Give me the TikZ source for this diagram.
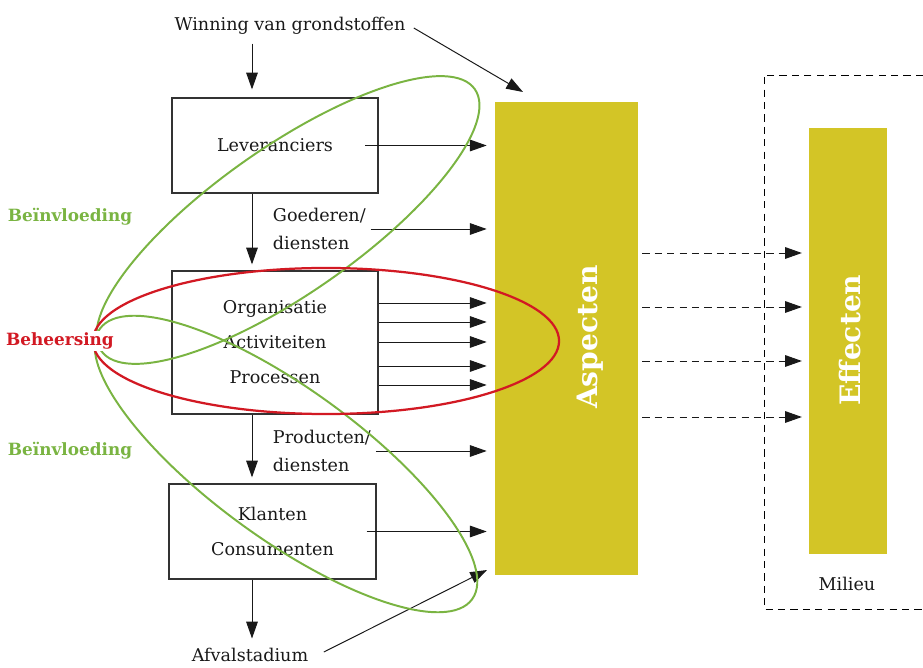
\documentclass[tikz,border=0pt]{standalone}
\usepackage{fontspec}
\setmainfont{DejaVu Serif}
\usetikzlibrary{arrows.meta}

\definecolor{aspectyellow}{RGB}{211,197,38}
\definecolor{influencegreen}{RGB}{122,180,66}
\definecolor{controlred}{RGB}{210,25,35}

\begin{document}
\begin{tikzpicture}[x=0.025cm, y=-0.025cm,
    every node/.style={text=black!90, font=\fontsize{12.5}{14}\selectfont},
    stage/.style={draw=black!80, line width=0.8pt, minimum width=5.15cm, align=center, font=\fontsize{12.5}{24.9}\selectfont},
    flowlabel/.style={anchor=west, align=left, font=\fontsize{12.5}{19.9}\selectfont},
    flow/.style={draw=black!90, line width=0.7pt, -{Triangle[length=4.2mm, width=2.9mm]}},
    effectflow/.style={flow, dash pattern=on 1.8mm off 1.3mm},
    yellowbar/.style={fill=aspectyellow, inner sep=0pt},
    bartext/.style={rotate=90, text=white, font=\bfseries\fontsize{20}{20}\selectfont},
    sidelabel/.style={font=\bfseries\fontsize{12}{12}\selectfont},
    ring/.style={line width=1.4pt}
]
    \useasboundingbox (0,0) rectangle (923,668);

    % chain
    \node (win) at (290,26) {Winning van grondstoffen};
    \node[stage, minimum height=2.375cm] (lev) at (275,145.5) {Leveranciers};
    \node[flowlabel] (goed) at (268,229) {Goederen/\\diensten};
    \node[stage, minimum height=3.575cm] (org) at (275,342.5) {Organisatie\\Activiteiten\\Processen};
    \node[flowlabel] (prod) at (268,451) {Producten/\\diensten};
    \node[stage, minimum height=2.375cm, minimum width=5.175cm] (klant) at (272.5,531.5) {Klanten\\Consumenten};
    \node[inner sep=1pt] (afval) at (250,655) {Afvalstadium};

    % aspects and effects
    \node[yellowbar, minimum width=3.575cm, minimum height=11.825cm] (asp) at (566.5,338.5) {};
    \node[bartext] (asplabel) at (590,337) {Aspecten};
    \node[yellowbar, minimum width=1.95cm, minimum height=10.65cm] (eff) at (848,341) {};
    \node[bartext] (efflabel) at (850,340) {Effecten};
    \node (milieu) at (847,584) {Milieu};
    \draw[dash pattern=on 1.8mm off 1.3mm, line width=0.6pt] (923,75) -- (764,75) -- (764,609) -- (923,609);

    % downwards
    \coordinate (chain) at (252,0);
    \draw[flow, shorten <=1mm, shorten >=2mm] (win.south -| chain) -- (lev.north -| chain);
    \draw[flow, shorten >=1.5mm] (lev.south -| chain) -- (org.north -| chain);
    \draw[flow, shorten >=1.5mm] (org.south -| chain) -- (klant.north -| chain);
    \draw[flow, shorten >=2mm] (klant.south -| chain) -- (afval.north -| chain);

    % into the aspects
    \draw[flow, shorten >=2mm] ([xshift=-3.3mm]lev.east) -- (lev.east -| asp.west);
    \draw[flow, shorten >=2mm] (goed.east) -- (goed.east -| asp.west);
    \foreach \y in {303,322,342,366,385}
        \draw[flow, shorten >=2mm] (org.east |- 0,\y) -- (asp.west |- 0,\y);
    \draw[flow, shorten >=2mm] (prod.east) -- (prod.east -| asp.west);
    \draw[flow, shorten >=2mm] ([xshift=-2.5mm]klant.east) -- (klant.east -| asp.west);
    \coordinate (asptop) at (523,92);
    \coordinate (aspbottom) at (487,570);
    \draw[flow, shorten <=1mm] (win.east) -- (asptop);
    \draw[flow] ([shift={(14,-3)}]afval.east) -- (aspbottom);

    % aspects to effects
    \foreach \y in {253,307,361,417}
        \draw[effectflow, shorten <=1mm, shorten >=1.7mm] (asp.east |- 0,\y) -- (eff.west |- 0,\y);

    % influence and control
    \draw[ring, draw=influencegreen, rotate around={35:(288,220)}] (288,220) ellipse [x radius=5.7cm, y radius=1.825cm];
    \draw[ring, draw=influencegreen, rotate around={-36:(286,464)}] (286,464) ellipse [x radius=5.75cm, y radius=1.875cm];
    \draw[ring, draw=controlred, line width=1.6pt] (326,341) ellipse [x radius=5.825cm, y radius=1.825cm];

    \node[sidelabel, text=influencegreen] (inftop) at (70,217) {Beïnvloeding};
    \node[sidelabel, text=controlred, fill=white, inner sep=1pt] (control) at (60,341) {Beheersing};
    \node[sidelabel, text=influencegreen] (infbottom) at (70,451) {Beïnvloeding};

\end{tikzpicture}
\end{document}
